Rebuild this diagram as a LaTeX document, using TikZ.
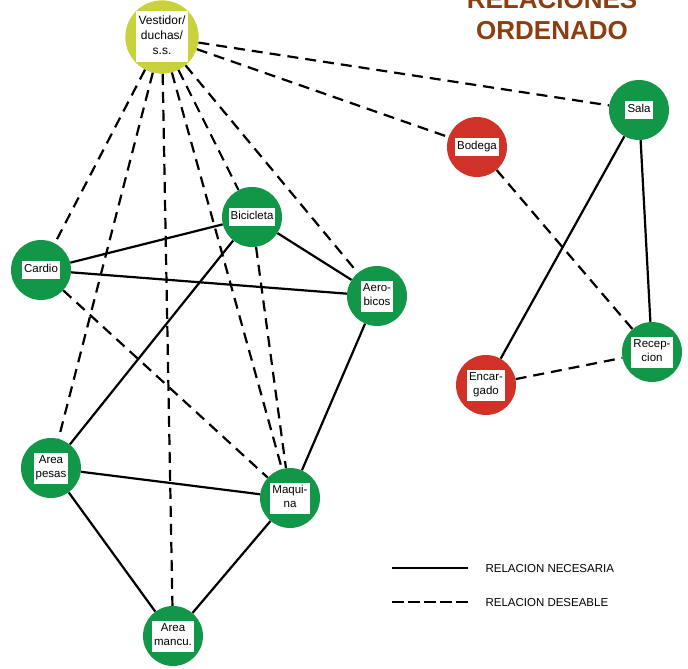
\documentclass[tikz,border=0pt]{standalone}
\usepackage{fontspec}
\setmainfont{Liberation Sans}
\usepackage{xcolor}
\usetikzlibrary{positioning}

\definecolor{verde}{RGB}{18,150,72}
\definecolor{rojo}{RGB}{208,50,40}
\definecolor{lima}{RGB}{200,210,60}
\definecolor{cafe}{RGB}{140,62,16}

\newcommand{\etiqueta}[1]{{\setlength{\fboxsep}{2pt}\colorbox{white}{\begin{tabular}{@{}c@{}}#1\end{tabular}}}}

\begin{document}
\begin{tikzpicture}[
    x=1pt, y=-1pt,
    zona/.style={
        circle,
        minimum size=60pt,
        inner sep=0pt,
        font=\fontsize{11.5}{13.5}\selectfont
    },
    necesaria/.style={line width=2.2pt},
    deseable/.style={line width=2.2pt, dash pattern=on 11pt off 7pt},
    leyenda/.style={anchor=west, font=\fontsize{11.5}{13}\selectfont},
    titulo/.style={anchor=base, text=cafe, font=\fontsize{26}{31}\selectfont\bfseries}
]
\useasboundingbox (0,0) rectangle (688,669);

% zonas
\node[zona, fill=lima, minimum size=58pt, font=\fontsize{12}{15}\selectfont] (vest) at (162,37) {%
{\setlength{\fboxsep}{3pt}\colorbox{white}{\begin{tabular}{@{}c@{}}Vestidor/\\duchas/\\s.s.\end{tabular}}}};
\node[zona, fill=verde] (sala) at (639,110) {\etiqueta{Sala}};
\node[zona, fill=rojo] (bodega) at (477,147) {\etiqueta{Bodega}};
\node[zona, fill=verde] (bici) at (252,217) {\etiqueta{Bicicleta}};
\node[zona, fill=verde] (cardio) at (41,270) {\etiqueta{Cardio}};
\node[zona, fill=verde] (aero) at (377,296) {\etiqueta{Aero-\\bicos}};
\node[zona, fill=verde] (recep) at (652,352) {\etiqueta{Recep-\\cion}};
\node[zona, fill=rojo] (encar) at (486,385) {\etiqueta{Encar-\\gado}};
\node[zona, fill=verde] (pesas) at (51,468) {\etiqueta{Area\\pesas}};
\node[zona, fill=verde] (maquina) at (290,498) {\etiqueta{Maqui-\\na}};
\node[zona, fill=verde] (mancu) at (173,636) {\etiqueta{Area\\mancu.}};

% titulo
\node[titulo] (tit1) at (552,9) {RELACIONES};
\node[titulo] (tit2) at (552,40) {ORDENADO};

% relaciones deseables
\draw[deseable] (vest) -- (cardio);
\draw[deseable] (vest) -- (pesas);
\draw[deseable] (vest) -- (mancu);
\draw[deseable] (vest) -- (maquina);
\draw[deseable] (vest) -- (bici);
\draw[deseable] (vest) -- (aero);
\draw[deseable] (vest) -- (bodega);
\draw[deseable] (vest) -- (sala);
\draw[deseable] (cardio) -- (maquina);
\draw[deseable] (bici) -- (maquina);
\draw[deseable] (bodega) -- (recep);
\draw[deseable] (encar) -- (recep);

% relaciones necesarias
\draw[necesaria] (cardio) -- (bici);
\draw[necesaria] (cardio) -- (aero);
\draw[necesaria] (bici) -- (aero);
\draw[necesaria] (bici) -- (pesas);
\draw[necesaria] (aero) -- (maquina);
\draw[necesaria] (pesas) -- (maquina);
\draw[necesaria] (pesas) -- (mancu);
\draw[necesaria] (maquina) -- (mancu);
\draw[necesaria] (sala) -- (encar);
\draw[necesaria] (sala) -- (recep);

% leyenda
\coordinate (n1) at (392,568);
\coordinate (n2) at (468,568);
\coordinate (d1) at (392,602);
\coordinate (d2) at (468,602);
\draw[necesaria] (n1) -- (n2);
\draw[line width=2.2pt, dash pattern=on 12pt off 4pt] (d1) -- (d2);
\node[leyenda] (ln) at (482,569) {RELACION NECESARIA};
\node[leyenda] (ld) at (482,603) {RELACION DESEABLE};

\end{tikzpicture}
\end{document}
